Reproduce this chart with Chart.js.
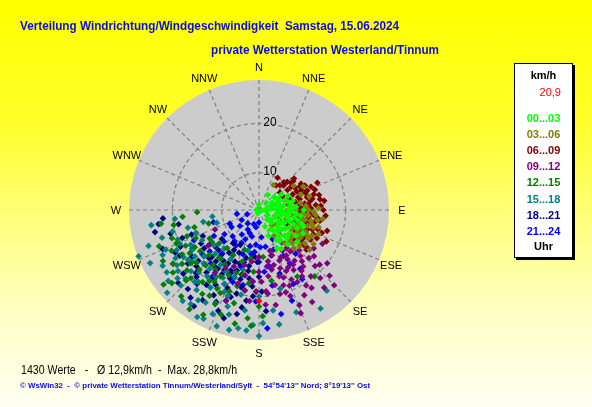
<!DOCTYPE html>
<html><head><meta charset="utf-8">
<script src="https://cdn.jsdelivr.net/npm/chart.js@4.4.1/dist/chart.umd.min.js"></script>
<style>
html,body{margin:0;padding:0;}
body{width:592px;height:407px;overflow:hidden;position:relative;
 background:linear-gradient(to bottom,#ffff00 0%,#ffff2a 30%,#ffff80 55%,#ffffc8 78%,#fffff2 100%);
 font-family:"Liberation Sans",Arial,sans-serif;}
#c{position:absolute;left:0;top:0;}
.txt{position:absolute;white-space:pre;line-height:1;transform-origin:0 50%;}
.t1{left:20px;top:19px;color:#0a0ae8;font-weight:bold;font-size:13px;}
.t2{left:211px;top:43px;color:#0a0ae8;font-weight:bold;font-size:13px;}
.stat{left:21px;top:364px;color:#000;font-size:12px;}
.foot{left:20px;top:382px;color:#0a0ae8;font-weight:bold;font-size:8px;}
#box{position:absolute;left:514px;top:63px;width:57px;height:193px;background:#fff;border:1px solid #000;box-shadow:2px 2px 0 #000;}
.li{position:absolute;left:0;width:57px;text-align:center;font-weight:bold;font-size:11px;line-height:1;}
</style>
</head><body>
<canvas id="c" width="592" height="407"></canvas>
<div class="txt t1" data-w="379">Verteilung Windrichtung/Windgeschwindigkeit  Samstag, 15.06.2024</div>
<div class="txt t2" data-w="228">private Wetterstation Westerland/Tinnum</div>
<div class="txt stat" data-w="216">1430 Werte   -   Ø 12,9km/h  -  Max. 28,8km/h</div>
<div class="txt foot" data-w="350">© WsWin32  -  © private Wetterstation Tinnum/Westerland/Sylt  -  54°54'13'' Nord; 8°19'13'' Ost</div>
<div id="box"></div>
<script>
// ---- data: [direction in degrees (0 = N, 90 = E), speed km/h] ----
const VMIN = 2.45;          // radial axis start (km/h)
const VMAX = 28.8;          // radial axis end = daily maximum (km/h)
const ringValues = [10, 20];
const compassLabels = ['N','NNE','NE','ENE','E','ESE','SE','SSE','S','SSW','SW','WSW','W','WNW','NW','NNW'];
const hourLabels = ['00...03','03...06','06...09','09...12','12...15','15...18','18...21','21...24'];
const hourColors = ['#00ff00','#808000','#800000','#800080','#008000','#008080','#000080','#0000ff'];
const currentSpeed = '20,9';
const currentValue = [[180, 20.9]];

const h00_03 = [[60,5.5],[75,6],[85,5],[95,6.5],[105,7],[115,6],[125,7.5],[135,6],[100,8],[90,8.5],[80,7.5],[70,8],[110,9],[120,9.5],[130,8.5],[140,8],[150,7],[95,10],[105,10.5],[85,10],[75,9.5],[115,11],[125,11.5],[135,10.5],[145,10],[100,4],[80,4],[120,4.5],[140,5],[160,6],[65,7],[55,8],[90,11.5],[110,12],[130,12.5],[150,9.5],[155,11],[100,3],[270,3],[45,4.5],[95,7.5],[105,8.5],[115,7.8],[125,9],[88,9.2],[78,6.8],[135,9.8],[145,7.5],[0,3.5],[200,3.2],[30,6],[92,6.2],[118,8.2],[102,9.6],[82,8.8],[128,10.2],[68,6.2],
  [60,7],[70,5],[84,7],[96,8.8],[104,6],[112,10],[122,7],[132,7.5],[142,9],[150,11.5],[98,11],[108,11.5],[118,12.5],[86,6],[74,8.5],[64,9],[128,5.5],[140,11.5],[160,8],[50,6.5]];
const h03_06 = [[100,10],[105,11],[110,12],[115,10.5],[120,11.5],[125,12.5],[130,11],[135,10],[140,9],[110,9],[100,8],[95,11.5],[90,12.5],[105,13.5],[115,13],[120,14],[125,9],[135,12],[145,10],[150,8.5],[90,10],[85,12],[80,11],[95,14],[100,14.5],[112,15.5],[88,14.5],[30,8.3],[62,12.6],[55,11],[70,11.5],[118,7.5],[128,7],[140,6.5],[108,6.5],[98,7],[132,13.5],[122,15.5],[102,12],[92,8],[84,9],[75,13],[117,11],[127,10.5],[137,11.5],[108,12.8],[112,10.8],
  [104,11.5],[108,14],[114,12],[118,13.5],[122,12.5],[126,14],[130,13],[134,11],[138,13],[142,11],[112,8],[120,10],[96,12.5],[92,13.5],[98,15.5],[106,15],[116,14.5],[128,15.5],[102,13.2],[110,11.2]];
const h06_09 = [[40,9],[45,10.5],[50,11.5],[55,9.5],[60,12],[65,10],[70,12.5],[75,11],[80,13],[85,10.5],[90,12],[95,13.5],[100,11],[105,12.5],[110,14],[115,12],[70,14.5],[80,15],[90,15.5],[85,14],[62,13],[50,11],[100,15],[110,16],[107,16.9],[95,16],[82,15.8],[65,15.5],[35,8.5],[30,10],[58,12.5],[70,9],[80,8.5],[90,9],[100,9.5],[110,10],[120,11],[125,13],[130,12],[120,14.5],[130,15],[115,17.5],[60,8],[50,8],[95,11.5],[75,12.5],[65,12],[88,13],[102,14],[45,9.5],[78,10],[92,10.5],[112,13],[118,9],[72,10.8],[86,11.8],[98,12.6],
  [42,10],[48,12],[54,10.5],[58,11],[64,11],[68,13],[74,14],[78,13.5],[84,12.5],[88,11],[94,12.8],[98,14.5],[104,13],[108,15],[114,14.5],[118,12],[122,13],[128,14],[66,14],[76,15],[86,15],[96,14],[106,10.5],[116,15.5],[82,11.8],[92,13.5]];
const h09_12 = [[130,12],[135,14],[140,13],[145,15],[150,14],[155,13],[160,15],[165,14],[140,16],[145,17.5],[150,16.5],[155,18],[160,17],[135,18.5],[130,17],[125,16],[128,20],[133,22],[138,21],[142,19.5],[148,20.5],[152,22],[157,23.4],[162,20],[168,18],[172,16],[176,21.7],[170,13],[165,11],[155,11],[145,10.5],[150,12],[120,14],[118,17],[135,24],[140,23],[160,21],[175,19],[180,15],[185,17],[190,19],[195,14],[200,22],[210,16],[215,18],[246,12.2],[235,15],[143,13],[137,11.5],[147,18.5],[153,15.5],[158,19],[163,16.5],[168,14.8],[149,13.2],
  [138,15],[142,17],[148,15.5],[152,19],[156,16],[162,18.5],[166,20],[170,22],[174,19.5],[178,17],[182,19],[186,21],[192,16],[196,18],[204,15],[146,21.5],[132,19],[128,15],[124,13],[158,13.5],[164,12],[172,14],[180,12],[188,13],[144,12],[134,16.5],[150,24],[158,25]];
const h12_15 = [[200,16],[210,18],[220,17],[230,19],[240,17.5],[250,18],[255,16],[260,20],[245,22],[235,21.5],[225,22],[215,20],[205,21],[195,22],[190,19],[200,25],[208,26.5],[215,27],[222,26],[230,25.5],[238,23],[250,24],[265,18],[268,15],[240,14],[230,13],[220,12.5],[210,13],[200,11],[190,12.5],[185,15],[180,22],[175,12],[170,17],[150,18],[140,20],[228,16],[218,15],[248,20.5],[235,17],[205,23.5],[212,15.5],[225,19.5],[242,24.5],[196,18.5],[255,13],[262,22.5],[192,26],[186,24.5],[232,27],
  [205,17],[212,19.5],[218,21],[224,18],[232,20],[238,19],[244,19],[252,21],[226,23],[234,24],[214,23],[200,20],[194,16],[188,17.5],[182,19],[208,20.5],[220,15],[246,16.5],[236,14],[216,17.5],[198,13.5],[240,20.5],[230,21.5],[210,22.5],[184,26],[178,24]];
const h15_18 = [[249,28.6],[254,22.9],[232,25.8],[264,19.6],[247,19.9],[256,17.3],[253,11.4],[190,26.8],[210,24.1],[205,23.3],[207,27.2],[183,25.8],[178,25.4],[140,23.8],[239,18.3],[215,16],[220,18],[225,15],[230,17],[235,20],[240,22],[245,24],[228,21],[218,23],[212,21],[205,19],[200,17],[195,15],[210,14],[222,13],[232,14],[242,15.5],[250,16],[258,14],[236,25],[226,24.5],[216,26],[198,23],[192,20],[186,17],[200,27.5],[244,27],[252,26],[262,24.5],[228,27.5],[213,18.5],[224,20],[233,23],[243,18],[208,16.5],[180,20],[172,23],[165,19],[195,11],[262,12],[160,24.5],[148,26],[238,20.5],[220,21.5],
  [218,19.5],[226,18],[234,18.5],[244,21],[250,20],[256,20.5],[236,22.5],[222,22],[214,24.5],[204,25.5],[196,24.5],[188,23],[200,21],[208,18],[230,24],[240,25],[247,23],[186,27],[194,27.5],[210,27.5],[220,26.5],[232,19.5],[227,22.8],[203,20.5],[170,26],[180,28]];
const h18_21 = [[200,14],[205,16],[210,15],[215,17],[220,16],[225,18],[230,17],[235,19],[240,18],[245,20],[250,19],[255,21],[205,19],[210,20],[215,21],[220,22],[225,20.5],[230,22.5],[195,17],[190,15],[185,18],[195,20],[200,22],[205,23],[212,24],[218,25],[228,24.5],[238,23],[248,23.5],[258,24],[262,23],[195,12.5],[205,12],[215,13],[225,14],[235,14.5],[245,15],[188,21],[192,24],[182,13],[210,17.5],[220,19],[230,14],[240,21],[250,17],[200,17],[260,19],[265,22],[198,25.5],[214,26],[222,24],[232,12],[208,10.5],[218,11],[243,21.5],[226,16.5],[202,19.5],
  [185,12],[190,14],[195,16],[200,15.5],[205,14],[210,16.5],[215,15],[220,14.5],[225,16],[230,18.5],[235,16],[240,16],[188,16.5],[193,18.5],[198,21],[203,17.5],[208,22],[213,19],[218,17],[223,21],[228,19.5],[233,20.5],[190,22.5],[196,13.5],[212,12],[184,20],[180,16],[178,19],[176,23],[202,24.5]];
const h21_24 = [[180,5],[190,6],[200,5.5],[210,7],[220,6],[230,7.5],[240,6.5],[250,5],[195,8],[205,9],[215,8.5],[225,10],[235,11],[245,9],[185,9.5],[175,8],[170,10],[165,12],[160,11],[155,9],[190,11.5],[200,12],[210,13],[220,14],[230,15.5],[240,13],[180,13],[175,15],[150,15],[145,17],[155,19],[170,18],[185,17],[200,18],[215,19],[225,20],[232,17],[245,17],[255,12],[260,7],[213,11],[198,14.5],
  [178,10],[186,11],[194,10],[202,7.5],[208,10],[218,10.5],[228,12],[238,9],[170,14],[162,16],[152,13],[140,14],[148,19],[182,21],[192,18],[204,16.5],[222,17],[160,22],[168,24],[176,26.5]];

const hourSeries = [h00_03, h03_06, h06_09, h09_12, h12_15, h15_18, h18_21, h21_24];

// ---- helpers ----
function toXY(p){
  const r = Math.max(0, p[1] - VMIN);
  const a = p[0] * Math.PI / 180;
  return {x: r * Math.sin(a), y: r * Math.cos(a)};
}
const S = VMAX - VMIN;

const datasets = [{
  label: 'aktuell', data: currentValue.map(toXY),
  pointStyle: 'rectRot', pointRadius: 3.3, pointBorderWidth: 0,
  backgroundColor: '#ff0000', borderColor: '#ff0000'
}].concat(hourSeries.map((s, i) => ({
  label: hourLabels[i], data: s.map(toXY),
  pointStyle: 'rectRot', pointRadius: 3.3, pointBorderWidth: 0,
  backgroundColor: hourColors[i], borderColor: hourColors[i]
})));

const polarGrid = {
  id: 'polarGrid',
  beforeDatasetsDraw(chart){
    const {ctx, scales} = chart;
    const cx = scales.x.getPixelForValue(0), cy = scales.y.getPixelForValue(0);
    const k = scales.x.getPixelForValue(1) - cx;
    const R = S * k;
    ctx.save();
    ctx.fillStyle = '#cccccc';
    ctx.beginPath(); ctx.arc(cx, cy, R, 0, Math.PI * 2); ctx.fill();
    ctx.strokeStyle = '#808080'; ctx.lineWidth = 1.2; ctx.setLineDash([4, 3]);
    compassLabels.forEach((lab, i) => {
      const a = i * 22.5 * Math.PI / 180;
      ctx.beginPath(); ctx.moveTo(cx, cy);
      ctx.lineTo(cx + R * Math.sin(a), cy - R * Math.cos(a)); ctx.stroke();
    });
    ringValues.forEach(v => {
      ctx.beginPath(); ctx.arc(cx, cy, (v - VMIN) * k, 0, Math.PI * 2); ctx.stroke();
    });
    ctx.setLineDash([]);
    ctx.fillStyle = '#000';
    ctx.textAlign = 'center'; ctx.textBaseline = 'middle';
    ctx.font = '12px "Liberation Sans", Arial, sans-serif';
    ringValues.forEach(v => {
      ctx.fillText(String(v), cx + 11, cy - (v - VMIN) * k - 1);
    });
    ctx.font = '11px "Liberation Sans", Arial, sans-serif';
    compassLabels.forEach((lab, i) => {
      const a = i * 22.5 * Math.PI / 180;
      const rr = R + 13;
      ctx.fillText(lab, cx + rr * Math.sin(a), cy - rr * Math.cos(a) + 1);
    });
    ctx.restore();
  }
};

new Chart(document.getElementById('c'), {
  type: 'scatter',
  data: {datasets},
  options: {
    responsive: false, animation: false,
    layout: {padding: {left: 129, right: 203, top: 80, bottom: 67}},
    scales: {
      x: {type: 'linear', min: -S, max: S, display: false},
      y: {type: 'linear', min: -S, max: S, display: false}
    },
    plugins: {legend: {display: false}, tooltip: {enabled: false}},
    elements: {point: {hoverRadius: 3.3}}
  },
  plugins: [polarGrid]
});

// ---- legend box ----
const box = document.getElementById('box');
function addItem(text, top, color, bold, align){
  const d = document.createElement('div');
  d.className = 'li'; d.textContent = text;
  d.style.top = top + 'px'; d.style.color = color;
  if (!bold) d.style.fontWeight = 'normal';
  if (align === 'right') { d.style.textAlign = 'right'; d.style.width = '46px'; }
  box.appendChild(d);
}
addItem('km/h', 6, '#000', true);
addItem(currentSpeed, 23, '#ff0000', false, 'right');
hourLabels.forEach((l, i) => addItem(l, 49 + i * 16.1, hourColors[i], true));
addItem('Uhr', 177, '#000', true);

// fit text widths
document.querySelectorAll('.txt[data-w]').forEach(el => {
  const w = el.getBoundingClientRect().width;
  const target = +el.dataset.w;
  if (w > 0) el.style.transform = 'scaleX(' + (target / w).toFixed(3) + ')';
});
</script>
</body></html>
